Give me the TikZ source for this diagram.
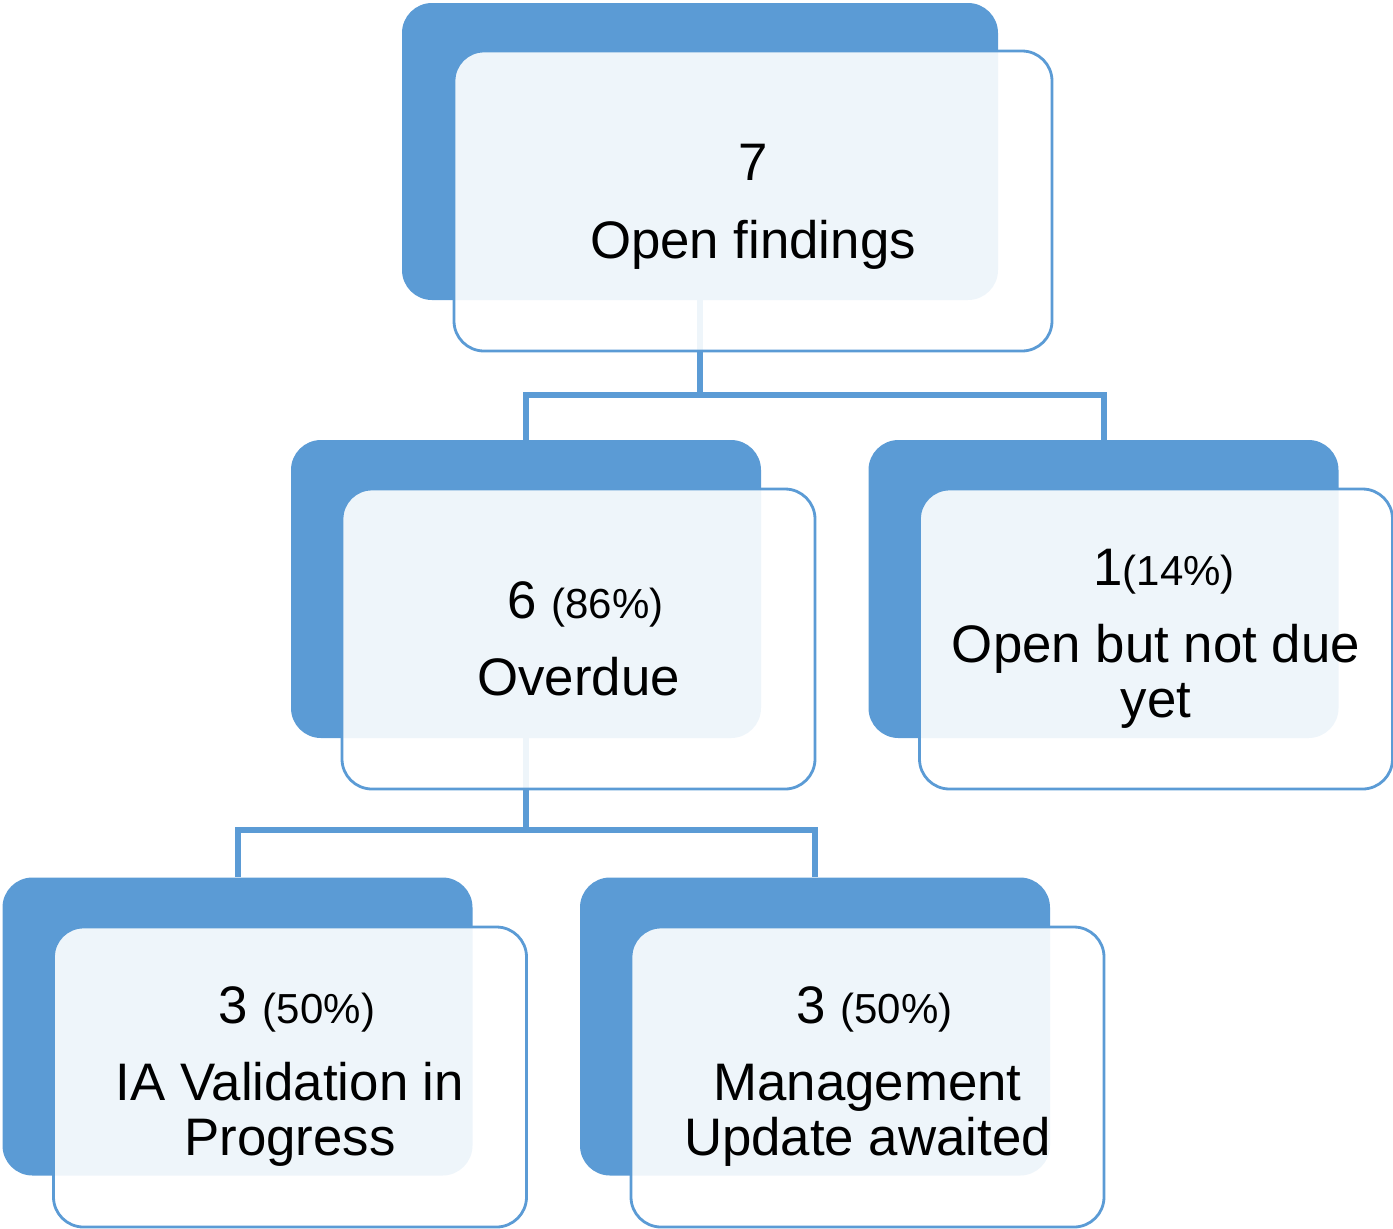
\documentclass[tikz,border=0pt]{standalone}
\usepackage{fontspec}
\setmainfont{Liberation Sans}
\usetikzlibrary{positioning, calc}
\definecolor{OfficeBlue}{HTML}{5B9BD5}
\newcommand{\pct}[1]{{\fontsize{21}{24}\selectfont(#1\%)}}

\begin{document}
\begin{tikzpicture}[
  x=0.5pt, y=-0.5pt,
  back/.style={rectangle, rounded corners=15pt, fill=OfficeBlue,
    minimum width=235pt, minimum height=149pt, inner sep=0pt},
  front/.style={rectangle, rounded corners=15pt, draw=OfficeBlue,
    line width=1.4pt, fill=white, fill opacity=0.9, text opacity=1,
    minimum width=236.5pt, minimum height=150pt, align=center,
    font=\fontsize{26.4}{27.5}\selectfont},
  link/.style={draw=OfficeBlue, line width=3pt}
]
\useasboundingbox (0,0) rectangle (1393,1228);

% back boxes
\node[back, minimum width=298pt, minimum height=148.5pt] (top) at (700,151.5) {};
\node[back] (over) at (526,589) {};
\node[back] (notdue) at (1103.5,589) {};
\node[back] (valid) at (237.5,1026.5) {};
\node[back] (mgmt) at (815,1026.5) {};

% Connectors
\draw[link] (top.south) -- ++(0,95) -| (over.north);
\draw[link] (top.south) -- ++(0,95) -| (notdue.north);
\draw[link] (over.south) -- ++(0,92) -| (valid.north);
\draw[link] (over.south) -- ++(0,92) -| (mgmt.north);

% front boxes
\node[front, minimum width=299pt] (topf) at ($(top)+(53,49.5)$)
  {\rule{0pt}{24pt}7\\[11.5pt] Open findings};
\node[front] (overf) at ($(over)+(52.5,50)$)
  {\hspace*{7pt}6 \pct{86}\\[11pt] Overdue};
\node[front] (notduef) at ($(notdue)+(52.5,50)$)
  {\hspace*{8pt}1\pct{14}\\[11pt] Open but not due\\ yet};
\node[front] (validf) at ($(valid)+(52.5,50.5)$)
  {\hspace*{7pt}3 \pct{50}\\[11pt] IA Validation in\\ Progress};
\node[front] (mgmtf) at ($(mgmt)+(52.5,50.5)$)
  {\hspace*{7pt}3 \pct{50}\\[11pt] Management\\ Update awaited};

\end{tikzpicture}
\end{document}
